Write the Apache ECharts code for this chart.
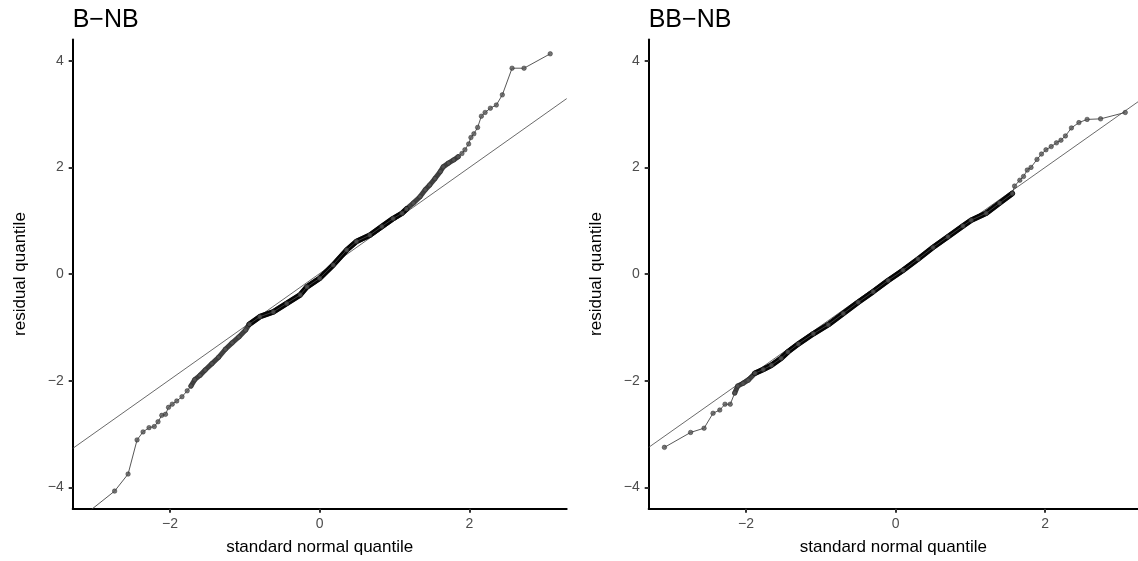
<!DOCTYPE html>
<html>
<head>
<meta charset="utf-8">
<script src="https://cdn.jsdelivr.net/npm/echarts@6/dist/echarts.min.js"></script>
<style>
  html, body { margin: 0; padding: 0; background: #fff; }
  #chart { width: 1138px; height: 561px; }
</style>
</head>
<body>
<div id="chart"></div>
<script>
var panelTitles = ['B\u2212NB', 'BB\u2212NB'];
var xName = 'standard normal quantile';
var yName = 'residual quantile';
var xTicks = [-2, 0, 2];
var yTicks = [-4, -2, 0, 2, 4];

// B-NB: theoretical vs sample quantiles
var leftX = [-3.09, -2.74, -2.56, -2.44, -2.36, -2.28, -2.21, -2.16, -2.11, -2.06, -2.02, -1.97, -1.91, -1.84,
  -1.77, -1.72, -1.67, -1.60, -1.53, -1.44, -1.35, -1.26, -1.17, -1.08, -0.99, -0.94, -0.80, -0.62, -0.44,
  -0.26, -0.17, 0.00, 0.18, 0.36, 0.49, 0.67, 0.83, 0.98, 1.10, 1.16, 1.25, 1.34, 1.41, 1.47, 1.54, 1.61,
  1.65, 1.72, 1.79, 1.85, 1.90, 1.94, 1.99, 2.02, 2.06, 2.11, 2.16, 2.21, 2.28, 2.36, 2.44, 2.57, 2.73, 3.08];
var leftY = [-4.46, -4.07, -3.75, -3.11, -2.96, -2.88, -2.86, -2.77, -2.65, -2.63, -2.50, -2.44, -2.38, -2.30,
  -2.19, -2.10, -1.98, -1.90, -1.80, -1.68, -1.56, -1.41, -1.29, -1.18, -1.05, -0.94, -0.80, -0.71, -0.55,
  -0.39, -0.24, -0.08, 0.17, 0.45, 0.61, 0.73, 0.89, 1.04, 1.14, 1.22, 1.33, 1.45, 1.58, 1.67, 1.79, 1.92,
  2.01, 2.08, 2.14, 2.20, 2.26, 2.33, 2.44, 2.56, 2.63, 2.75, 2.96, 3.03, 3.11, 3.17, 3.36, 3.86, 3.86, 4.13];

// BB-NB
var rightX = [-3.09, -2.74, -2.56, -2.44, -2.35, -2.28, -2.21, -2.15, -2.11, -2.04, -1.97, -1.88, -1.77, -1.66,
  -1.53, -1.44, -1.30, -1.10, -0.90, -0.70, -0.50, -0.30, -0.10, 0.10, 0.30, 0.50, 0.70, 0.90, 1.01, 1.21,
  1.39, 1.56, 1.59, 1.66, 1.71, 1.76, 1.81, 1.89, 1.95, 2.01, 2.08, 2.15, 2.21, 2.27, 2.35, 2.45, 2.56, 2.74, 3.07];
var rightY = [-3.25, -2.97, -2.89, -2.61, -2.55, -2.44, -2.44, -2.23, -2.10, -2.05, -1.99, -1.86, -1.79, -1.71,
  -1.58, -1.46, -1.31, -1.12, -0.95, -0.74, -0.53, -0.33, -0.12, 0.07, 0.28, 0.50, 0.70, 0.90, 1.01, 1.14,
  1.33, 1.51, 1.65, 1.76, 1.83, 1.95, 2.00, 2.15, 2.25, 2.33, 2.39, 2.46, 2.51, 2.59, 2.74, 2.84, 2.90, 2.91, 3.03];

// qq reference lines (end points)
var refLeft = [[-3.3, -3.27], [3.3, 3.29]];
var refRight = [[-3.3, -3.25], [3.24, 3.23]];

function pairs(xs, ys, lo, hi) {
  var out = [];
  for (var i = 0; i < xs.length; i++) {
    if (xs[i] >= lo && xs[i] <= hi) out.push([xs[i], ys[i]]);
  }
  return out;
}

function tickFmt(v) {
  return v < 0 ? '\u2212' + (-v) : String(v);
}

var panels = [
  {x: leftX, y: leftY, ref: refLeft, left: 72.7, width: 494, xMax: 3.3, grey: [-1.75, 1.85], black: [-0.95, 1.16]},
  {x: rightX, y: rightY, ref: refRight, left: 648.7, width: 489.3, xMax: 3.24, grey: [-2.15, 1.56], black: [-1.9, 1.56]}
];

var font = 'Liberation Sans, Arial, sans-serif';
var option = {
  backgroundColor: '#fff',
  animation: false,
  title: [], grid: [], xAxis: [], yAxis: [], series: []
};

panels.forEach(function (p, i) {
  option.title.push({
    text: panelTitles[i], left: p.left, top: 8, padding: 0,
    textStyle: {fontSize: 25, fontWeight: 'normal', color: '#000', fontFamily: font}
  });
  option.grid.push({left: p.left, top: 39.4, width: p.width, height: 469.3, containLabel: false});
  option.xAxis.push({
    type: 'value', gridIndex: i, min: -3.3, max: p.xMax,
    name: xName, nameLocation: 'middle', nameGap: 30,
    nameTextStyle: {fontSize: 17, color: '#000', fontFamily: font},
    axisLine: {onZero: false, lineStyle: {color: '#000', width: 2}},
    axisTick: {customValues: xTicks, length: 4, lineStyle: {color: '#333', width: 2}},
    axisLabel: {customValues: xTicks, formatter: tickFmt, margin: 8, fontSize: 14, color: '#4D4D4D', fontFamily: font},
    splitLine: {show: false}
  });
  option.yAxis.push({
    type: 'value', gridIndex: i, min: -4.4, max: 4.4,
    name: yName, nameLocation: 'middle', nameGap: 44,
    nameTextStyle: {fontSize: 17, color: '#000', fontFamily: font},
    axisLine: {onZero: false, lineStyle: {color: '#000', width: 2}},
    axisTick: {customValues: yTicks, length: 4, lineStyle: {color: '#333', width: 2}},
    axisLabel: {customValues: yTicks, formatter: tickFmt, margin: 9, fontSize: 14, color: '#4D4D4D', fontFamily: font},
    splitLine: {show: false}
  });
  option.series.push({
    type: 'line', xAxisIndex: i, yAxisIndex: i, data: p.ref, showSymbol: false, silent: true,
    lineStyle: {color: '#444', width: 0.8}
  });
  option.series.push({
    type: 'line', xAxisIndex: i, yAxisIndex: i, data: pairs(p.x, p.y, p.grey[0], p.grey[1]),
    showSymbol: false, silent: true, lineStyle: {color: 'rgba(30,30,30,0.85)', width: 5, cap: 'round', join: 'round'}
  });
  option.series.push({
    type: 'line', xAxisIndex: i, yAxisIndex: i, data: pairs(p.x, p.y, p.black[0], p.black[1]),
    showSymbol: false, silent: true, lineStyle: {color: '#050505', width: 5.5, cap: 'round', join: 'round'}
  });
  option.series.push({
    type: 'line', xAxisIndex: i, yAxisIndex: i, data: pairs(p.x, p.y, -99, 99),
    symbol: 'circle', symbolSize: 4.5, showAllSymbol: true, clip: true,
    itemStyle: {color: 'rgba(85,85,85,0.8)', borderColor: 'rgba(40,40,40,0.8)', borderWidth: 0.6},
    lineStyle: {color: '#444', width: 0.9}
  });
});

var myChart = echarts.init(document.getElementById('chart'));
myChart.setOption(option);
</script>
</body>
</html>
